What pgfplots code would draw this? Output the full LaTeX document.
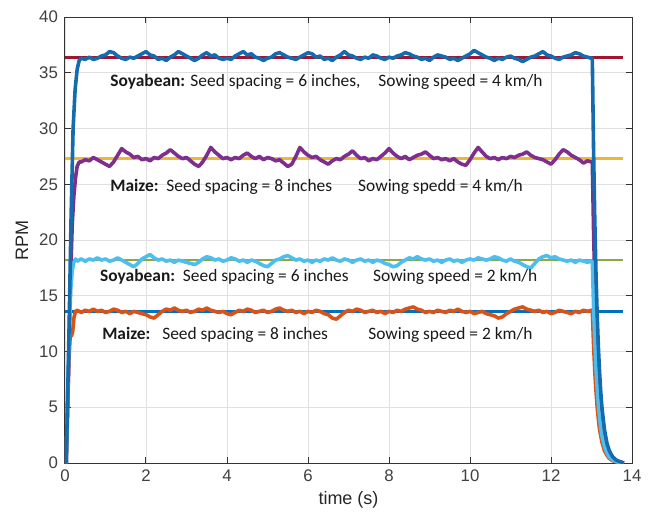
\documentclass[border=0pt]{standalone}
\usepackage{fontspec}
\setmainfont{Liberation Sans}
\newfontfamily\calfont{Carlito}
\usepackage{pgfplots}
\pgfplotsset{compat=1.18}
\definecolor{mblue}{rgb}{0,0.447,0.741}
\definecolor{dblue}{rgb}{0.08,0.42,0.68}
\definecolor{morange}{rgb}{0.85,0.325,0.098}
\definecolor{myellow}{rgb}{0.929,0.72,0.2}
\definecolor{mpurple}{rgb}{0.494,0.184,0.556}
\definecolor{mgreen}{rgb}{0.55,0.66,0.25}
\definecolor{mlblue}{rgb}{0.301,0.745,0.933}
\definecolor{mred}{rgb}{0.635,0.078,0.184}
\begin{document}
\begin{tikzpicture}
\path[use as bounding box] (-32.5pt,-29pt) rectangle (294pt,231.5pt);
\begin{axis}[
  at={(0pt,0pt)}, anchor=south west,
  width=283.5pt, height=223pt, scale only axis,
  xmin=0, xmax=14, ymin=0, ymax=40,
  xtick={0,2,...,14}, ytick={0,5,...,40},
  grid=major, major grid style={black!12, line width=0.4pt},
  tick align=inside, major tick length=3pt,
  tick style={black!80, line width=0.5pt},
  axis line style={black!80, line width=0.5pt},
  ticklabel style={font=\fontsize{8.4}{9}\selectfont, text=black!75},
  /pgf/number format/assume math mode=true,
  xlabel={time (s)}, ylabel={RPM},
  label style={font=\fontsize{9}{10}\selectfont, text=black!85},
  xlabel style={at={(axis description cs:0.5,-0.083)}, anchor=center},
  ylabel style={at={(axis description cs:-0.076,0.5)}, anchor=center, rotate=0},
  every axis plot/.append style={line width=1.8pt, line join=round},
  clip=true,
]
% reference lines
\addplot[mred, line width=1.5pt] coordinates {(0,36.4) (13.78,36.4)};
\addplot[myellow, line width=1.5pt] coordinates {(0,27.3) (13.78,27.3)};
\addplot[mgreen, line width=1.2pt] coordinates {(0,18.2) (13.78,18.2)};
\addplot[mblue, line width=1.2pt] coordinates {(0,13.6) (13.78,13.6)};
% Maize 2 km/h
\addplot[morange] coordinates {(0,0) (0.03,0) (0.06,5) (0.1,9.5) (0.13,11.5) (0.16,11.4) (0.19,11.8) (0.22,13.0) (0.26,13.6) (0.3,13.7)
(0.4,13.5) (0.5,13.7) (0.6,13.6) (0.7,13.8) (0.8,13.6) (0.9,13.7) (1.0,13.5) (1.1,13.6) (1.2,13.8) (1.3,13.7)
(1.4,13.5) (1.5,13.6) (1.6,13.4) (1.7,13.6) (1.8,13.5) (1.9,13.4) (2.0,13.3) (2.1,13.1) (2.2,13.0) (2.3,13.3)
(2.4,13.6) (2.5,13.8) (2.6,13.7) (2.7,13.9) (2.8,13.7) (2.9,13.6) (3.0,13.7) (3.1,13.5) (3.2,13.6) (3.3,13.8)
(3.4,13.7) (3.5,13.9) (3.6,13.7) (3.7,13.6) (3.8,13.5) (3.9,13.6) (4.0,13.4) (4.1,13.3) (4.2,13.5) (4.3,13.7)
(4.4,13.6) (4.5,13.8) (4.6,13.7) (4.7,13.5) (4.8,13.6) (4.9,13.7) (5.0,13.5) (5.1,13.6) (5.2,13.8) (5.3,13.9)
(5.4,13.7) (5.5,13.6) (5.6,13.7) (5.7,13.5) (5.8,13.6) (5.9,13.4) (6.0,13.6) (6.1,13.5) (6.2,13.7) (6.3,13.6)
(6.4,13.4) (6.5,13.3) (6.6,13.0) (6.7,12.9) (6.8,13.2) (6.9,13.5) (7.0,13.7) (7.1,13.6) (7.2,13.8) (7.3,13.7)
(7.4,13.5) (7.5,13.6) (7.6,13.7) (7.7,13.5) (7.8,13.6) (7.9,13.4) (8.0,13.6) (8.1,13.5) (8.2,13.7) (8.3,13.6)
(8.4,13.8) (8.5,13.9) (8.6,14.0) (8.7,13.8) (8.8,13.7) (8.9,13.5) (9.0,13.6) (9.1,13.5) (9.2,13.7) (9.3,13.6)
(9.4,13.5) (9.5,13.7) (9.6,13.6) (9.7,13.8) (9.8,13.6) (9.9,13.5) (10.0,13.6) (10.1,13.4) (10.2,13.5) (10.3,13.6)
(10.4,13.4) (10.5,13.3) (10.6,13.2) (10.7,13.0) (10.8,13.1) (10.9,13.4) (11.0,13.6) (11.1,13.8) (11.2,13.9) (11.3,14.0)
(11.4,13.8) (11.5,13.7) (11.6,13.6) (11.7,13.7) (11.8,13.5) (11.9,13.6) (12.0,13.4) (12.1,13.5) (12.2,13.7) (12.3,13.6)
(12.4,13.5) (12.5,13.4) (12.6,13.6) (12.7,13.5) (12.8,13.7) (12.9,13.6) (13.0,13.7)
(13.02,13.7) (13.05,10.7) (13.08,8.3) (13.11,6.5) (13.14,5.0) (13.17,3.9) (13.20,3.0) (13.23,2.4) (13.26,1.85) (13.32,1.1)
(13.38,0.7) (13.44,0.41) (13.52,0.21) (13.62,0.09) (13.72,0.04) (13.8,0)};
% Maize 4 km/h
\addplot[mpurple] coordinates {(0,0) (0.03,0) (0.06,4) (0.1,10) (0.14,17) (0.18,21.5) (0.22,24) (0.26,25.6) (0.3,26.6) (0.35,27.0)
(0.4,27.0) (0.5,27.2) (0.6,27.1) (0.7,27.4) (0.8,27.2) (0.9,27.0) (1.0,26.8) (1.1,26.6) (1.2,27.0) (1.3,27.6)
(1.4,28.2) (1.5,27.9) (1.6,27.7) (1.7,27.4) (1.8,27.5) (1.9,27.2) (2.0,27.3) (2.1,27.1) (2.2,27.4) (2.3,27.3)
(2.4,27.6) (2.5,27.8) (2.6,28.1) (2.7,27.8) (2.8,27.5) (2.9,27.3) (3.0,27.4) (3.1,27.1) (3.2,26.8) (3.3,26.6)
(3.4,27.0) (3.5,27.6) (3.6,28.3) (3.7,27.9) (3.8,27.6) (3.9,27.3) (4.0,27.4) (4.1,27.2) (4.2,27.4) (4.3,27.3)
(4.4,27.6) (4.5,27.8) (4.6,27.5) (4.7,27.3) (4.8,27.5) (4.9,27.2) (5.0,27.4) (5.1,27.3) (5.2,27.1) (5.3,27.2)
(5.4,26.9) (5.5,26.6) (5.6,26.8) (5.7,27.5) (5.8,28.3) (5.9,27.9) (6.0,27.6) (6.1,27.4) (6.2,27.5) (6.3,27.2)
(6.4,27.0) (6.5,26.8) (6.6,27.1) (6.7,27.3) (6.8,27.2) (6.9,27.5) (7.0,27.7) (7.1,28.0) (7.2,27.6) (7.3,27.3)
(7.4,27.4) (7.5,27.1) (7.6,27.3) (7.7,27.2) (7.8,27.5) (7.9,27.8) (8.0,28.2) (8.1,27.8) (8.2,27.5) (8.3,27.3)
(8.4,27.5) (8.5,27.2) (8.6,27.4) (8.7,27.6) (8.8,27.7) (8.9,27.9) (9.0,27.6) (9.1,27.3) (9.2,27.4) (9.3,27.2)
(9.4,27.3) (9.5,27.1) (9.6,27.3) (9.7,27.0) (9.8,26.8) (9.9,26.7) (10.0,27.2) (10.1,27.8) (10.2,28.3) (10.3,27.9)
(10.4,27.5) (10.5,27.3) (10.6,27.4) (10.7,27.2) (10.8,27.4) (10.9,27.3) (11.0,27.5) (11.1,27.4) (11.2,27.6) (11.3,27.7)
(11.4,27.9) (11.5,27.6) (11.6,27.4) (11.7,27.3) (11.8,27.2) (11.9,27.0) (12.0,26.8) (12.1,27.2) (12.2,27.7) (12.3,28.1)
(12.4,27.9) (12.5,27.6) (12.6,27.4) (12.7,27.2) (12.8,26.9) (12.9,27.1) (13.0,27.0)
(13.02,27.0) (13.05,21.0) (13.08,16.4) (13.11,12.7) (13.14,9.9) (13.17,7.7) (13.20,6.0) (13.23,4.7) (13.26,3.6) (13.32,2.2)
(13.38,1.35) (13.44,0.82) (13.52,0.42) (13.62,0.18) (13.72,0.08) (13.8,0)};
% Soyabean 2 km/h
\addplot[mlblue] coordinates {(0,0) (0.03,0) (0.06,5) (0.1,11) (0.14,15.5) (0.18,17.3) (0.22,18.0) (0.26,18.3) (0.3,18.1)
(0.4,18.3) (0.5,18.1) (0.6,18.3) (0.7,18.2) (0.8,18.4) (0.9,18.2) (1.0,18.3) (1.1,18.1) (1.2,18.2) (1.3,18.4)
(1.4,18.2) (1.5,18.0) (1.6,17.8) (1.7,17.6) (1.8,17.9) (1.9,18.3) (2.0,18.5) (2.1,18.7) (2.2,18.4) (2.3,18.2)
(2.4,18.3) (2.5,18.1) (2.6,18.2) (2.7,18.0) (2.8,18.2) (2.9,18.1) (3.0,18.0) (3.1,17.9) (3.2,17.8) (3.3,18.0)
(3.4,18.3) (3.5,18.5) (3.6,18.4) (3.7,18.2) (3.8,18.3) (3.9,18.1) (4.0,18.2) (4.1,18.4) (4.2,18.3) (4.3,18.1)
(4.4,18.2) (4.5,18.0) (4.6,18.2) (4.7,18.1) (4.8,17.9) (4.9,17.7) (5.0,17.6) (5.1,17.9) (5.2,18.2) (5.3,18.3)
(5.4,18.5) (5.5,18.6) (5.6,18.4) (5.7,18.2) (5.8,18.3) (5.9,18.1) (6.0,18.2) (6.1,18.0) (6.2,18.2) (6.3,18.1)
(6.4,18.3) (6.5,18.2) (6.6,18.4) (6.7,18.2) (6.8,18.1) (6.9,18.3) (7.0,18.2) (7.1,18.0) (7.2,18.2) (7.3,18.3)
(7.4,18.1) (7.5,18.2) (7.6,18.0) (7.7,18.2) (7.8,18.1) (7.9,17.9) (8.0,17.8) (8.1,17.6) (8.2,17.7) (8.3,18.0)
(8.4,18.2) (8.5,18.4) (8.6,18.3) (8.7,18.5) (8.8,18.3) (8.9,18.2) (9.0,18.3) (9.1,18.1) (9.2,18.2) (9.3,18.0)
(9.4,18.2) (9.5,18.3) (9.6,18.1) (9.7,18.2) (9.8,18.0) (9.9,18.2) (10.0,18.3) (10.1,18.2) (10.2,18.4) (10.3,18.3)
(10.4,18.2) (10.5,18.3) (10.6,18.5) (10.7,18.4) (10.8,18.2) (10.9,18.1) (11.0,18.3) (11.1,18.1) (11.2,18.0) (11.3,17.8)
(11.4,17.6) (11.5,17.5) (11.6,17.9) (11.7,18.3) (11.8,18.5) (11.9,18.6) (12.0,18.4) (12.1,18.5) (12.2,18.3) (12.3,18.2)
(12.4,18.1) (12.5,18.2) (12.6,18.0) (12.7,18.2) (12.8,18.1) (12.9,18.0) (13.0,18.1)
(13.02,18.1) (13.05,14.1) (13.08,11.0) (13.11,8.5) (13.14,6.7) (13.17,5.2) (13.20,4.0) (13.23,3.1) (13.26,2.4) (13.32,1.5)
(13.38,0.9) (13.44,0.54) (13.52,0.28) (13.62,0.12) (13.72,0.05) (13.8,0)};
% Soyabean 4 km/h
\addplot[dblue] coordinates {(0,0) (0.03,0) (0.06,5) (0.1,12) (0.15,22) (0.2,30) (0.25,33.5) (0.3,35.3) (0.35,36.1)
(0.4,36.3) (0.5,36.2) (0.6,36.4) (0.7,36.2) (0.8,36.3) (0.9,36.5) (1.0,36.6) (1.1,36.9) (1.2,36.8) (1.3,36.5)
(1.4,36.3) (1.5,36.2) (1.6,36.4) (1.7,36.3) (1.8,36.5) (1.9,36.7) (2.0,36.9) (2.1,36.6) (2.2,36.5) (2.3,36.2)
(2.4,36.3) (2.5,36.1) (2.6,36.4) (2.7,36.6) (2.8,36.9) (2.9,36.7) (3.0,36.5) (3.1,36.3) (3.2,36.1) (3.3,36.3)
(3.4,36.6) (3.5,36.8) (3.6,36.5) (3.7,36.6) (3.8,36.3) (3.9,36.2) (4.0,36.3) (4.1,36.2) (4.2,36.5) (4.3,36.7)
(4.4,36.9) (4.5,36.6) (4.6,36.7) (4.7,36.4) (4.8,36.3) (4.9,36.1) (5.0,36.3) (5.1,36.4) (5.2,36.7) (5.3,36.8)
(5.4,36.6) (5.5,36.4) (5.6,36.3) (5.7,36.2) (5.8,36.4) (5.9,36.6) (6.0,36.8) (6.1,36.7) (6.2,36.4) (6.3,36.5)
(6.4,36.2) (6.5,36.3) (6.6,36.1) (6.7,36.4) (6.8,36.6) (6.9,36.9) (7.0,36.6) (7.1,36.5) (7.2,36.3) (7.3,36.2)
(7.4,36.4) (7.5,36.3) (7.6,36.6) (7.7,36.5) (7.8,36.3) (7.9,36.2) (8.0,36.4) (8.1,36.3) (8.2,36.5) (8.3,36.6)
(8.4,36.8) (8.5,36.7) (8.6,36.5) (8.7,36.4) (8.8,36.2) (8.9,36.3) (9.0,36.1) (9.1,36.4) (9.2,36.6) (9.3,36.5)
(9.4,36.4) (9.5,36.2) (9.6,36.3) (9.7,36.1) (9.8,36.3) (9.9,36.5) (10.0,36.7) (10.1,37.0) (10.2,36.8) (10.3,36.6)
(10.4,36.4) (10.5,36.3) (10.6,36.1) (10.7,36.3) (10.8,36.2) (10.9,36.4) (11.0,36.5) (11.1,36.3) (11.2,36.2) (11.3,36.0)
(11.4,36.2) (11.5,36.4) (11.6,36.5) (11.7,36.7) (11.8,36.9) (11.9,36.6) (12.0,36.5) (12.1,36.3) (12.2,36.2) (12.3,36.4)
(12.4,36.5) (12.5,36.6) (12.6,36.8) (12.7,36.7) (12.8,36.5) (12.9,36.4) (13.0,36.3)
(13.02,36.3) (13.05,28.3) (13.08,22.0) (13.11,17.1) (13.14,13.3) (13.17,10.4) (13.20,8.1) (13.23,6.3) (13.26,4.9) (13.32,3.0)
(13.38,1.8) (13.44,1.1) (13.52,0.56) (13.62,0.24) (13.72,0.1) (13.8,0)};
% annotations
\begin{scope}[every node/.style={anchor=west, inner sep=0pt, font=\calfont\fontsize{8.7}{10}\selectfont, text=black!90}]
\node at (axis cs:1.11,34.17) {\textbf{Soyabean:} Seed spacing = 6 inches,};
\node at (axis cs:7.73,34.17) {Sowing speed = 4 km/h};
\node at (axis cs:1.11,24.75) {\textbf{Maize:}\ \ Seed spacing = 8 inches};
\node at (axis cs:7.23,24.75) {Sowing spedd = 4 km/h};
\node at (axis cs:0.86,16.68) {\textbf{Soyabean:}\ \ Seed spacing = 6 inches};
\node at (axis cs:7.60,16.68) {Sowing speed = 2 km/h};
\node at (axis cs:0.91,11.48) {\textbf{Maize:}\ \ \ Seed spacing = 8 inches};
\node at (axis cs:7.48,11.48) {Sowing speed = 2 km/h};
\end{scope}
\end{axis}
\end{tikzpicture}
\end{document}
